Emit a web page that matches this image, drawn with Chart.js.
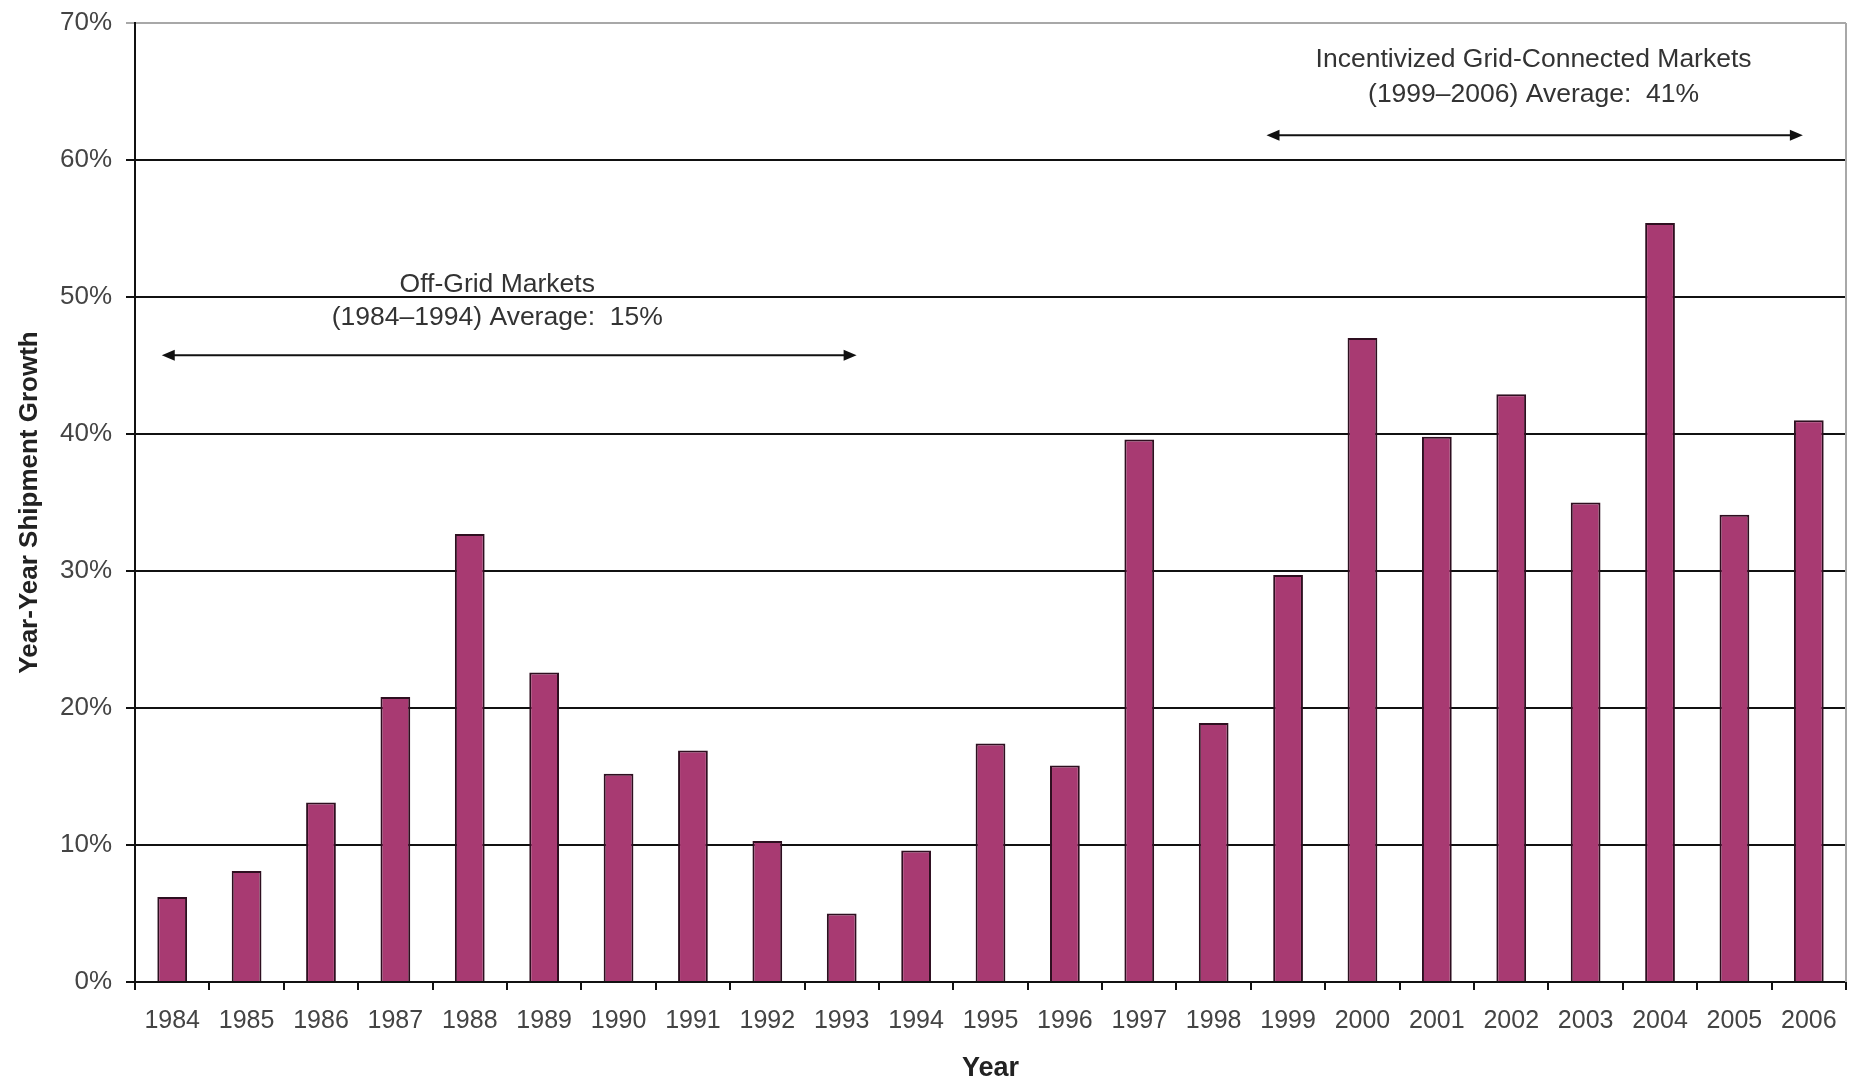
<!DOCTYPE html>
<html>
<head>
<meta charset="utf-8">
<script src="https://cdn.jsdelivr.net/npm/chart.js@4/dist/chart.umd.min.js"></script>
<style>
  html, body { margin: 0; padding: 0; background: #ffffff; }
  canvas { display: block; }
</style>
</head>
<body>
<canvas id="c" width="1856" height="1078"></canvas>
<script>
// ---- data ----
const years = ['1984','1985','1986','1987','1988','1989','1990','1991','1992','1993','1994',
               '1995','1996','1997','1998','1999','2000','2001','2002','2003','2004','2005','2006'];
const growth = [6.2, 8.1, 13.1, 20.8, 32.7, 22.6, 15.2, 16.9, 10.3, 5.0, 9.6,
                17.4, 15.8, 39.6, 18.9, 29.7, 47.0, 39.8, 42.9, 35.0, 55.4, 34.1, 41.0];
const yTicks = [0, 10, 20, 30, 40, 50, 60, 70];
const offGridLines = ['Off-Grid Markets', '(1984\u20131994) Average:  15%'];
const gridLines = ['Incentivized Grid-Connected Markets', '(1999\u20132006) Average:  41%'];
// annotation anchors in data units (category index, percent)
const offGridArrow = { from: -0.14, to: 9.2, y: 45.75 };
const offGridText = { x: 4.37, y: [50.9, 48.5] };
const gridArrow = { from: 14.71, to: 21.92, y: 61.8 };
const gridText = { x: 18.3, y: [67.3, 64.8] };

const FONT = "'Liberation Sans', Arial, sans-serif";

const annotationPlugin = {
  id: 'annotations',
  afterDatasetsDraw(chart) {
    const { ctx, scales: { x, y }, chartArea } = chart;
    ctx.save();
    // right border of plot area
    ctx.strokeStyle = '#a8a8a8';
    ctx.lineWidth = 2;
    ctx.beginPath();
    ctx.moveTo(chartArea.right, chartArea.top);
    ctx.lineTo(chartArea.right, chartArea.bottom);
    ctx.stroke();

    function arrow(a) {
      const x1 = x.getPixelForValue(a.from), x2 = x.getPixelForValue(a.to), yy = y.getPixelForValue(a.y);
      const hl = 13, hw = 5.5;
      ctx.strokeStyle = '#111';
      ctx.fillStyle = '#111';
      ctx.lineWidth = 2;
      ctx.beginPath();
      ctx.moveTo(x1 + hl - 2, yy);
      ctx.lineTo(x2 - hl + 2, yy);
      ctx.stroke();
      ctx.beginPath();
      ctx.moveTo(x1, yy); ctx.lineTo(x1 + hl, yy - hw); ctx.lineTo(x1 + hl, yy + hw); ctx.closePath(); ctx.fill();
      ctx.beginPath();
      ctx.moveTo(x2, yy); ctx.lineTo(x2 - hl, yy - hw); ctx.lineTo(x2 - hl, yy + hw); ctx.closePath(); ctx.fill();
    }
    function texts(lines, t) {
      ctx.fillStyle = '#333';
      ctx.font = "26.5px " + FONT;
      ctx.textAlign = 'center';
      ctx.textBaseline = 'middle';
      const cx = x.getPixelForValue(t.x);
      lines.forEach((s, i) => ctx.fillText(s, cx, y.getPixelForValue(t.y[i])));
    }
    arrow(offGridArrow);
    arrow(gridArrow);
    texts(offGridLines, offGridText);
    texts(gridLines, gridText);
    ctx.restore();
  }
};

new Chart(document.getElementById('c'), {
  type: 'bar',
  data: {
    labels: years,
    datasets: [{
      data: growth,
      backgroundColor: '#a83a72',
      borderColor: '#2e0f20',
      borderWidth: 2,
      borderSkipped: 'bottom',
      barPercentage: 0.40,
      categoryPercentage: 1.0
    }]
  },
  options: {
    responsive: false,
    devicePixelRatio: 1,
    animation: false,
    layout: { padding: { top: 23, right: 10, left: 0, bottom: 0 } },
    plugins: { legend: { display: false }, tooltip: { enabled: false }, title: { display: false } },
    scales: {
      x: {
        afterFit(scale) { scale.height = 96; scale.paddingLeft = 0; scale.paddingRight = 0; },
        grid: { display: true, drawOnChartArea: false, drawTicks: true, tickLength: 8, color: '#111', lineWidth: 2, offset: true },
        border: { display: true, color: '#111', width: 2 },
        ticks: { color: '#444', font: { family: FONT, size: 25 }, padding: 16, maxRotation: 0, autoSkip: false },
        title: { display: true, text: 'Year', color: '#222', font: { family: FONT, size: 27, weight: 'bold', lineHeight: 1 }, padding: { top: 0, bottom: -4 } }
      },
      y: {
        min: yTicks[0],
        max: yTicks[yTicks.length - 1],
        afterFit(scale) { scale.width = 135; scale.paddingTop = 0; scale.paddingBottom = 0; },
        afterBuildTicks(scale) { scale.ticks = yTicks.map(v => ({ value: v })); },
        grid: {
          color: (c) => (c.tick && c.tick.value === 70) ? '#a8a8a8' : '#111',
          lineWidth: 2,
          tickLength: 9,
          drawTicks: true
        },
        border: { display: true, color: '#111', width: 2 },
        ticks: { color: '#444', font: { family: FONT, size: 26 }, padding: 14, callback: (v) => v + '%' },
        title: { display: true, text: 'Year-Year Shipment Growth', color: '#222', font: { family: FONT, size: 26, weight: 'bold' }, padding: { top: 14, bottom: 0 } }
      }
    }
  },
  plugins: [annotationPlugin]
});
</script>
</body>
</html>
